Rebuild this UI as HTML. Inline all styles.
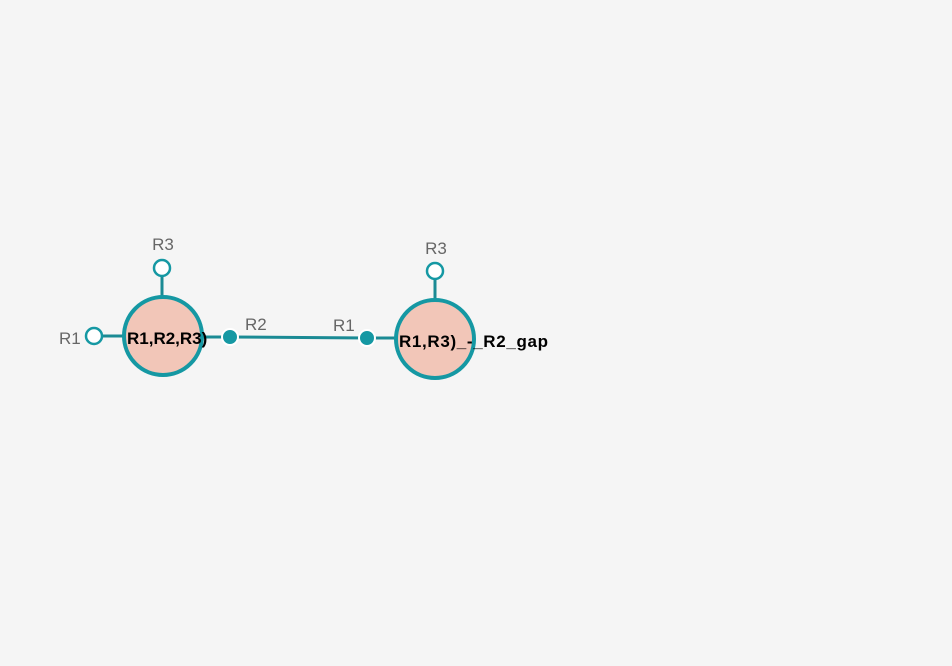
<!DOCTYPE html>
<html><head><meta charset="utf-8"><style>
html,body{margin:0;padding:0;background:#f5f5f5;}
svg{display:block;}
</style></head><body>
<svg width="952" height="666" xmlns="http://www.w3.org/2000/svg" font-family="Liberation Sans, sans-serif">
<rect width="952" height="666" fill="#f5f5f5"/>
<g stroke="#1a8a94" stroke-width="3">
<line x1="102" y1="336" x2="124" y2="336"/>
<line x1="162" y1="276" x2="162" y2="297"/>
<line x1="200" y1="337" x2="230" y2="337"/>
<line x1="230" y1="337" x2="367" y2="338"/>
<line x1="367" y1="338" x2="396" y2="338"/>
<line x1="435" y1="279" x2="435" y2="300"/>
</g>
<circle cx="163" cy="336" r="39" fill="#f2c6b8" stroke="#1598a3" stroke-width="4"/>
<circle cx="435" cy="339" r="39" fill="#f2c6b8" stroke="#1598a3" stroke-width="4"/>
<g fill="#fff" stroke="#1598a3" stroke-width="2.5">
<circle cx="94" cy="336" r="8"/>
<circle cx="162" cy="268" r="8"/>
<circle cx="435" cy="271" r="8"/>
</g>
<g fill="#1598a3" stroke="#fff" stroke-width="2">
<circle cx="230" cy="337" r="8"/>
<circle cx="367" cy="338" r="8"/>
</g>
<g fill="#666" font-size="17">
<text x="163" y="250" text-anchor="middle">R3</text>
<text x="436" y="254" text-anchor="middle">R3</text>
<text x="59" y="344">R1</text>
<text x="245" y="330">R2</text>
<text x="333" y="331">R1</text>
</g>
<g fill="#000" font-size="17" font-weight="bold">
<text x="127" y="344">R1,R2,R3)</text>
<text x="399" y="347" textLength="149">R1,R3)_-_R2_gap</text>
</g>
</svg>
</body></html>
